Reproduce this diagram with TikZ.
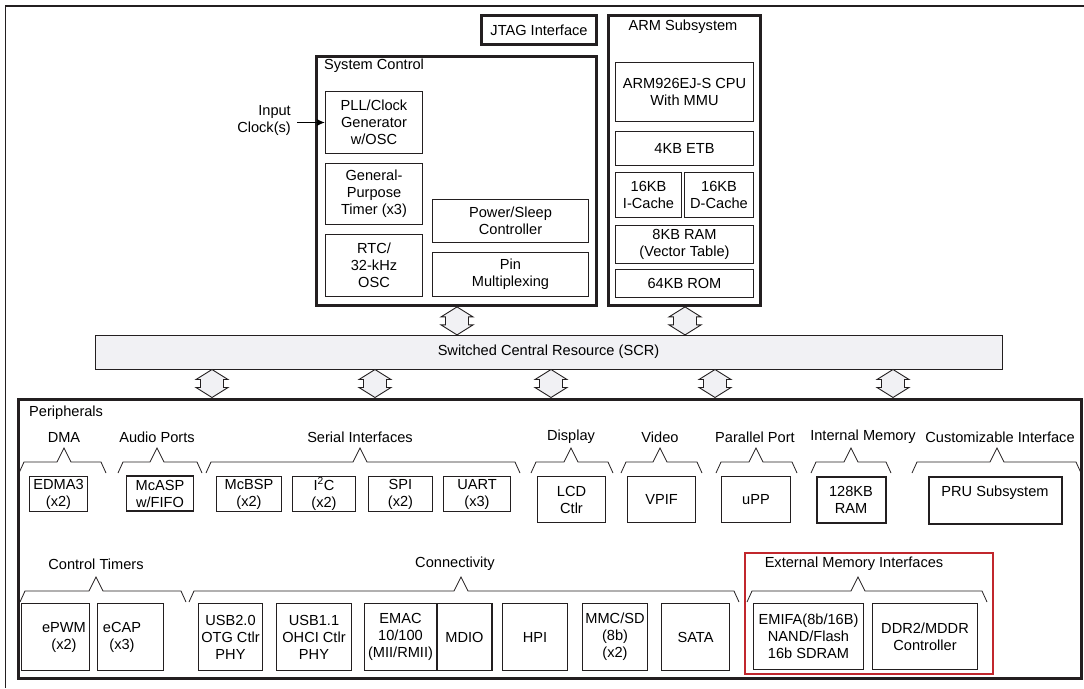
\documentclass[tikz,border=0pt]{standalone}
\usepackage{fontspec}
\setmainfont{Liberation Sans}
\usepackage{xcolor}
\usetikzlibrary{arrows.meta,positioning}
\definecolor{inkline}{HTML}{231F20}
\definecolor{scrgray}{HTML}{F1F1F4}
\definecolor{emired}{HTML}{C1272D}
\newcommand{\busarrow}[1]{\draw[busarr] (#1) -- ++(16,10) -- ++(-4.5,0) -- ++(0,8) -- ++(4.5,0) -- ++(-16,10) -- ++(-16,-10) -- ++(4.5,0) -- ++(0,-8) -- ++(-4.5,0) -- cycle;}
\newcommand{\grpbrace}[4]{\draw[brace] (#1,#4+25) -- ++(5,-11) -- (#2-7,#4+14) -- (#2,#4) -- (#2+7,#4+14) -- (#3-5,#4+14) -- ++(5,11);}

\begin{document}
\begin{tikzpicture}[x=1pt, y=-1pt, line join=miter, every node/.style={font=\fontsize{14.6}{17}\selectfont}, sz/.style 2 args={minimum width=#1pt, minimum height=#2pt}, frame/.style={draw=inkline, line width=2.8pt, inner sep=0pt}, box/.style={draw=inkline, line width=1.3pt, inner sep=0pt, align=center}, pbox/.style={box, line width=1.7pt}, tag/.style={inner sep=0pt, align=center}, busarr/.style={draw=inkline, line width=0.9pt, fill=scrgray}, brace/.style={draw=inkline, line width=0.8pt}, clkarr/.style={-{Latex[length=8pt,width=7pt]}, line width=1pt}]
\useasboundingbox (0,0) rectangle (1084,688);
\draw[inkline, line width=2.5pt] (5,6) -- (1084,6);
\draw[inkline, line width=0.9pt] (5,6) -- (5,688);

\node[frame, sz={115}{29}] (jtag) at (539,30) {JTAG Interface};
\node[frame, sz={152}{290}] (arm) at (684.5,160.5) {};
\node[tag] (armt) at (683,27) {ARM Subsystem};
\node[frame, sz={280}{249}] (sysctl) at (456.5,181) {};
\node[tag, anchor=west] (sysctlt) at (324,66) {System Control};
\node[box, sz={97}{62}] (pll) at (374,122.5) {PLL/Clock\\Generator\\w/OSC};
\node[box, sz={97}{61}] (gpt) at (374,194) {General-\\Purpose\\Timer (x3)};
\node[box, sz={97}{62}] (rtc) at (374,265.5) {RTC/\\32-kHz\\OSC};
\node[box, sz={156}{43}] (pwr) at (510.5,221) {Power/Sleep\\Controller};
\node[box, line width=1.6pt, sz={156}{44}] (pinmux) at (510.5,274.5) {Pin\\Multiplexing};
\node[tag, align=right, anchor=east] (clk) at (291,120.5) {Input\\Clock(s)};
\draw[clkarr, shorten <=6pt] (clk.east |- pll.west) -- (pll.west);
\node[box, sz={138}{59}] (cpu) at (684.5,92) {ARM926EJ-S CPU\\With MMU};
\node[box, sz={138}{34}] (etb) at (684.5,148.5) {4KB ETB};
\node[box, sz={66}{45}] (icache) at (648.5,195) {16KB\\I-Cache};
\node[box, sz={69}{45}] (dcache) at (719,195) {16KB\\D-Cache};
\node[box, sz={138}{38}] (ram) at (684.5,244.5) {8KB RAM\\(Vector Table)};
\node[box, sz={138}{28}] (rom) at (684.5,283.5) {64KB ROM};

\node[box, line width=1pt, fill=scrgray, sz={907}{34}] (scr) at (548.5,352) {Switched Central Resource (SCR)};
\busarrow{457,0 |- sysctl.south}
\busarrow{685,0 |- arm.south}
\foreach \x in {212,375,551,715,893} \busarrow{\x,0 |- scr.south};

\node[frame, sz={1063}{279}] (periph) at (550,539) {};
\node[tag, anchor=west] (periphl) at (29,413) {Peripherals};
\node[tag] (dmal) at (64,437) {DMA};
\node[tag] (audiol) at (157,437) {Audio Ports};
\node[tag] (seriall) at (360,437) {Serial Interfaces};
\node[tag] (displ) at (571,437) {Display};
\node[tag] (videol) at (660,437) {Video};
\node[tag] (parl) at (755,437) {Parallel Port};
\node[tag] (imeml) at (863,437) {Internal Memory};
\node[tag] (custl) at (1000,437) {Customizable Interface};
\foreach \a/\t/\b in {19/64/106, 118/157/202, 206/360/520, 531/571/613, 621/660/702, 716/756/797, 811/851/891, 912/997/1081} \grpbrace{\a}{\t}{\b}{448};

\node[pbox, sz={58}{35}] (edma) at (58.5,494) {EDMA3\\(x2)};
\node[pbox, sz={67}{35}] (mcasp) at (160,493.5) {McASP\\w/FIFO};
\node[pbox, sz={65}{35}] (mcbsp) at (249,494) {McBSP\\(x2)};
\node[pbox, sz={63}{35}] (iic) at (324,494) {I\textsuperscript{2}C\\(x2)};
\node[pbox, sz={64}{35}] (spi) at (400.5,494) {SPI\\(x2)};
\node[pbox, sz={67}{35}] (uart) at (477,494) {UART\\(x3)};
\node[pbox, sz={68}{46}] (lcd) at (571.5,499.5) {LCD\\Ctlr};
\node[pbox, sz={68}{46}] (vpif) at (661.5,499.5) {VPIF};
\node[pbox, sz={69}{46}] (upp) at (756,499.5) {uPP};
\node[pbox, line width=2pt, sz={69}{46}] (iram) at (851,499.5) {128KB\\RAM};
\node[pbox, line width=2pt, sz={133}{47}, label={[yshift=7.5pt]center:PRU Subsystem}] (pru) at (995,500) {};

\node[tag] (ctiml) at (96,564) {Control Timers};
\node[tag] (connl) at (455,564) {Connectivity};
\node[draw=emired, line width=1.8pt, inner sep=0pt, sz={248}{121}] (emif) at (869,613.5) {};
\node[tag] (emifl) at (854,564) {External Memory Interfaces};
\foreach \a/\t/\b in {20/96/186, 189/461/739, 747/858/987} \grpbrace{\a}{\t}{\b}{577};

\node[pbox, sz={68}{67}, label={[align=center, xshift=8.5pt]center:ePWM\\(x2)}] (epwm) at (55.5,637) {};
\node[pbox, sz={66}{67}, label={[align=center, xshift=-8.5pt]center:eCAP\\(x3)}] (ecap) at (130.5,637) {};
\node[pbox, sz={64}{67}] (usbtwo) at (230.5,637) {USB2.0\\OTG Ctlr\\PHY};
\node[pbox, sz={75}{67}] (usbone) at (314,637) {USB1.1\\OHCI Ctlr\\PHY};
\node[pbox, sz={72}{67}] (emac) at (400.5,637) {EMAC\\10/100\\(MII/RMII)};
\node[pbox, sz={55}{67}] (mdio) at (464.5,637) {MDIO};
\node[pbox, sz={65}{67}] (hpi) at (535,637) {HPI};
\node[pbox, sz={65}{67}] (mmc) at (615,637) {MMC/SD\\(8b)\\(x2)};
\node[pbox, sz={68}{67}] (sata) at (695.5,637) {SATA};
\node[pbox, sz={110}{66}] (emifa) at (808.5,636.5) {EMIFA(8b/16B)\\NAND/Flash\\16b SDRAM};
\node[pbox, sz={105}{66}] (ddr) at (925,636.5) {DDR2/MDDR\\Controller};
\end{tikzpicture}
\end{document}
